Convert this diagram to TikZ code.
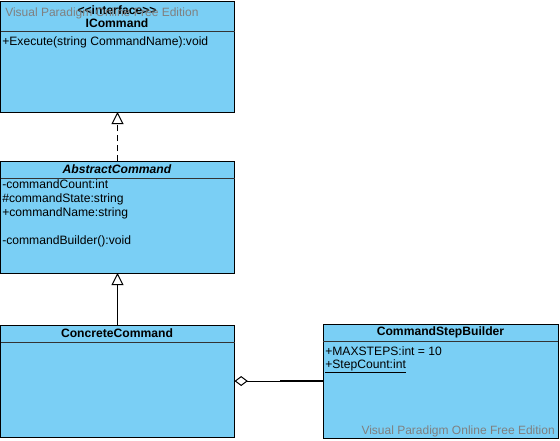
\documentclass[tikz,border=0pt]{standalone}
\usepackage{fontspec}
\setmainfont[Ligatures=NoCommon]{Liberation Sans}
\usetikzlibrary{arrows.meta,calc}
\definecolor{umlfill}{RGB}{122,207,245}
\definecolor{wmgray}{RGB}{128,128,128}
\begin{document}
\begin{tikzpicture}[x=0.75pt,y=-0.75pt,
  classbox/.style={draw=black,fill=umlfill,line width=0.75pt,anchor=north west,inner sep=0pt,outer sep=0pt},
  divider/.style={draw=black!80,line width=0.75pt},
  title/.style={font=\fontsize{9.1pt}{10pt}\selectfont\bfseries,inner sep=0pt,anchor=base},
  member/.style={font=\fontsize{9.1pt}{10pt}\selectfont,inner sep=0pt,anchor=base west},
  wm/.style={font=\fontsize{9pt}{10pt}\selectfont,text=wmgray,inner sep=0pt},
  realize/.style={draw=black,line width=0.75pt,dashed,dash pattern=on 4.5pt off 3pt,-{Triangle[open,length=9pt,width=9pt,fill=white]}},
  inherit/.style={draw=black,line width=0.75pt,-{Triangle[open,length=9pt,width=9pt,fill=white]}},
  aggr/.style={draw=black,line width=0.75pt,{Diamond[open,length=10pt,width=7.5pt,fill=white]}-}]
\useasboundingbox (0,0) rectangle (560,440);
% ICommand
\node[classbox,minimum width=175.5pt,minimum height=83.25pt] (icmd) at (0.5,1) {};
\draw[divider] (0.5,31) coordinate (icl) -- (234.5,31) coordinate (icr);
\node[title] (icst) at (117,14) {{<}{<}interface{>}{>}};
\node[title] (icname) at (117,27) {ICommand};
\node[member] (icexec) at (2,45) {+Execute(string CommandName):void};
% AbstractCommand
\node[classbox,minimum width=175.5pt,minimum height=84pt] (abs) at (0.5,161) {};
\draw[divider] (0.5,178) -- (234.5,178);
\node[title,font=\fontsize{9.1pt}{10pt}\selectfont\bfseries\itshape] (absname) at (117,173) {AbstractCommand};
\node[member] (a1) at (2,188) {-commandCount:int};
\node[member] (a2) at (2,202) {\#commandState:string};
\node[member] (a3) at (2,216) {+commandName:string};
\node[member] (a4) at (2,244) {-commandBuilder():void};
% ConcreteCommand
\node[classbox,minimum width=175.5pt,minimum height=84pt] (cc) at (0.5,325) {};
\draw[divider] (0.5,342) -- (234.5,342);
\node[title] (ccname) at (117,337) {ConcreteCommand};
% CommandStepBuilder
\node[classbox,minimum width=176.25pt,minimum height=85.5pt] (csb) at (323,324) {};
\draw[divider] (323,341) -- (558,341);
\node[title] (csbname) at (440.5,335) {CommandStepBuilder};
\node[member] (s1) at (325,355) {+MAXSTEPS:int = 10};
\node[member] (s2) at (325,368) {\underline{+StepCount:int}};
% connectors
\draw[realize] (abs.north) -- (icmd.south);
\draw[inherit] (cc.north) -- (abs.south);
\draw[aggr] (cc.east) -- (csb.west);
\coordinate (thk) at ($(csb.west)+(-43,0)$);
\draw[line width=1.2pt] (thk) -- (csb.west);
% watermarks
\node[wm,anchor=base west] (wm1) at (5,16) {Visual Paradigm Online Free Edition};
\node[wm,anchor=base east] (wm2) at (555,434) {Visual Paradigm Online Free Edition};
\end{tikzpicture}
\end{document}
